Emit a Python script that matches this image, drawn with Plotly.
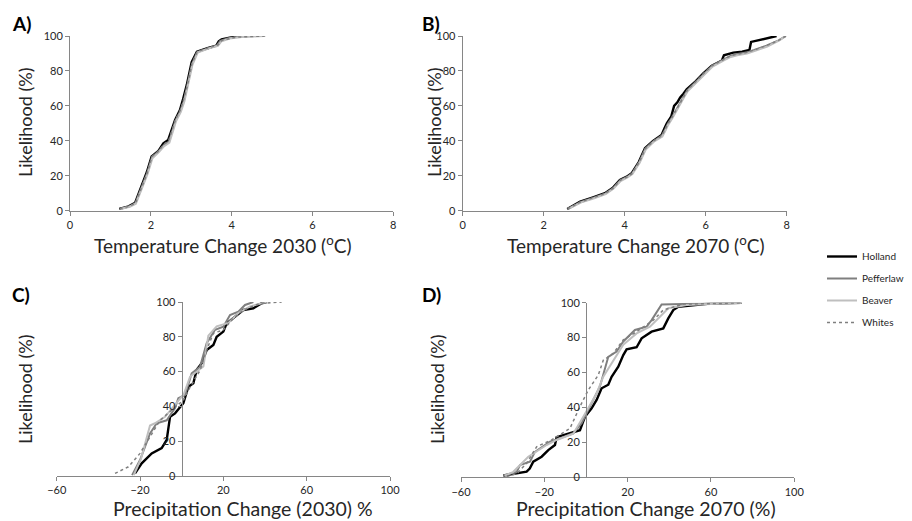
import plotly.graph_objects as go

# ---------------- data ----------------
stations = ["Holland", "Pefferlaw", "Beaver", "Whites"]

# Panel A: Temperature change 2030 (deg C) vs likelihood (%)
a_holland_x = [1.22, 1.45, 1.61, 1.77, 1.90, 2.02, 2.18, 2.31, 2.43, 2.60, 2.72, 2.80, 2.89, 3.01, 3.14, 3.40, 3.62, 3.68, 3.75, 3.95, 4.20]
a_holland_y = [1.0, 2.5, 4.5, 14.0, 22.0, 31.0, 34.0, 38.5, 40.5, 52.0, 57.6, 64.0, 72.0, 85.0, 91.0, 93.0, 94.5, 97.0, 98.0, 99.0, 100.0]
a_pefferlaw_x = [1.24, 1.47, 1.62, 1.78, 1.91, 2.03, 2.19, 2.32, 2.45, 2.61, 2.73, 2.82, 2.90, 3.02, 3.15, 3.41, 3.64, 3.72, 3.90, 4.15, 4.60]
a_pefferlaw_y = [1.0, 2.5, 4.3, 13.5, 21.5, 30.5, 34.0, 37.5, 39.5, 51.5, 57.0, 63.0, 71.0, 84.0, 90.8, 93.0, 94.6, 97.2, 98.6, 99.5, 100.0]
a_beaver_x = [1.25, 1.48, 1.63, 1.79, 1.92, 2.04, 2.20, 2.33, 2.46, 2.62, 2.74, 2.83, 2.91, 3.03, 3.16, 3.42, 3.66, 3.75, 3.95, 4.30, 4.80]
a_beaver_y = [1.0, 2.3, 4.0, 13.0, 21.0, 30.0, 33.5, 37.0, 39.0, 51.0, 56.5, 62.5, 70.5, 83.5, 90.5, 92.8, 94.4, 97.0, 98.6, 99.5, 100.0]
a_whites_x = [1.23, 1.46, 1.62, 1.78, 1.91, 2.03, 2.19, 2.32, 2.44, 2.61, 2.73, 2.81, 2.90, 3.02, 3.15, 3.42, 3.66, 3.76, 4.10, 4.45, 4.87]
a_whites_y = [1.0, 2.5, 4.2, 13.5, 21.5, 31.0, 34.0, 38.0, 40.0, 52.0, 57.6, 63.5, 71.0, 84.4, 91.0, 93.2, 94.8, 97.5, 99.3, 99.7, 100.0]

# Panel B: Temperature change 2070 (deg C) vs likelihood (%)
b_holland_x = [2.58, 2.75, 2.90, 3.20, 3.51, 3.70, 3.88, 4.05, 4.17, 4.35, 4.50, 4.70, 4.91, 4.98, 5.04, 5.15, 5.22, 5.30, 5.37, 5.45, 5.53, 5.75, 5.94, 6.15, 6.40, 6.45, 6.68, 6.90, 7.08, 7.12, 7.40, 7.75]
b_holland_y = [1.0, 3.0, 5.2, 7.5, 10.0, 13.0, 17.6, 19.5, 21.4, 28.0, 35.7, 40.0, 43.3, 47.0, 50.0, 54.0, 60.0, 62.0, 64.8, 67.0, 69.5, 74.0, 78.6, 83.0, 86.0, 89.0, 90.5, 91.0, 92.0, 96.6, 98.0, 100.0]
b_pefferlaw_x = [2.60, 2.76, 2.92, 3.22, 3.52, 3.71, 3.89, 4.06, 4.18, 4.36, 4.51, 4.71, 4.92, 5.00, 5.06, 5.17, 5.26, 5.32, 5.40, 5.47, 5.55, 5.76, 5.95, 6.16, 6.44, 6.60, 6.75, 7.00, 7.20, 7.50, 7.80, 7.98]
b_pefferlaw_y = [1.0, 3.0, 5.0, 7.3, 9.8, 12.8, 17.4, 19.3, 21.2, 27.8, 35.5, 39.8, 43.0, 46.5, 49.5, 53.5, 57.5, 60.0, 63.0, 66.0, 69.0, 74.0, 78.6, 83.0, 86.5, 88.5, 89.5, 90.5, 92.0, 94.5, 97.5, 100.0]
b_beaver_x = [2.61, 2.77, 2.93, 3.23, 3.53, 3.72, 3.90, 4.07, 4.19, 4.37, 4.52, 4.72, 4.93, 5.01, 5.07, 5.18, 5.27, 5.33, 5.41, 5.48, 5.56, 5.77, 5.96, 6.17, 6.45, 6.62, 6.78, 7.02, 7.22, 7.52, 7.82, 7.98]
b_beaver_y = [1.0, 2.8, 4.8, 7.0, 9.5, 12.5, 17.0, 19.0, 21.0, 27.5, 35.0, 39.5, 42.5, 46.0, 49.0, 53.0, 57.0, 59.5, 62.5, 65.5, 68.5, 73.5, 78.0, 82.5, 86.0, 88.0, 89.0, 90.0, 91.5, 94.0, 97.5, 100.0]
b_whites_x = [2.59, 2.76, 2.91, 3.21, 3.52, 3.71, 3.89, 4.06, 4.18, 4.36, 4.51, 4.71, 4.92, 5.00, 5.06, 5.17, 5.26, 5.32, 5.40, 5.47, 5.55, 5.76, 5.95, 6.16, 6.44, 6.60, 6.76, 7.00, 7.20, 7.50, 7.80, 7.98]
b_whites_y = [1.0, 3.0, 5.0, 7.3, 9.8, 12.8, 17.4, 19.3, 21.2, 27.8, 35.5, 39.8, 43.0, 46.5, 49.5, 53.5, 57.3, 60.0, 63.0, 66.0, 69.0, 74.0, 78.6, 83.0, 86.5, 88.5, 89.5, 90.5, 92.0, 94.5, 97.5, 100.0]

# Panel C: Precipitation change 2030 (%) vs likelihood (%)
c_holland_x = [-22.4, -19.2, -14.4, -9.6, -7.2, -5.6, -3.2, 0.8, 3.2, 5.6, 7.2, 9.6, 12.0, 15.2, 16.8, 20.0, 21.6, 25.6, 29.6, 34.4, 38.4, 40.8]
c_holland_y = [1.5, 7.3, 13.0, 16.0, 20.7, 34.0, 36.0, 41.8, 51.3, 53.3, 61.0, 64.8, 72.4, 75.3, 80.0, 83.0, 87.7, 91.5, 95.4, 96.4, 99.3, 100.0]
c_pefferlaw_x = [-23.8, -20.0, -15.2, -12.0, -7.2, -3.2, -1.6, 1.6, 4.8, 8.8, 12.0, 16.0, 20.0, 23.2, 27.2, 30.4, 34.4]
c_pefferlaw_y = [0.5, 9.2, 24.5, 30.3, 32.0, 39.0, 44.7, 46.6, 59.0, 62.8, 76.3, 84.0, 85.8, 92.5, 94.4, 98.3, 100.0]
c_beaver_x = [-23.0, -19.5, -15.2, -12.8, -8.0, -2.4, 1.0, 4.0, 10.4, 12.8, 16.8, 22.4, 27.2, 32.8, 40.8]
c_beaver_y = [0.5, 10.0, 29.0, 30.3, 34.0, 41.8, 47.0, 57.0, 63.0, 80.7, 86.0, 88.0, 93.7, 97.5, 100.0]
c_whites_x = [-32.0, -25.6, -20.0, -15.2, -10.4, -4.0, 0.8, 4.0, 8.8, 12.0, 15.2, 20.0, 24.8, 29.6, 37.6, 48.0]
c_whites_y = [1.5, 5.3, 13.0, 22.6, 32.0, 38.7, 43.5, 51.0, 60.7, 72.4, 82.0, 84.0, 90.6, 95.4, 99.2, 100.0]

# Panel D: Precipitation change 2070 (%) vs likelihood (%)
d_holland_x = [-39.7, -28.5, -27.0, -25.3, -21.3, -18.1, -14.9, -14.1, -2.9, -0.5, 2.7, 5.1, 7.5, 10.7, 12.3, 15.5, 17.9, 19.5, 24.3, 26.7, 31.5, 37.1, 39.5, 41.9, 44.3, 59.5, 74.7]
d_holland_y = [1.0, 3.2, 5.0, 9.0, 11.8, 15.6, 18.5, 23.0, 27.0, 34.7, 39.5, 44.3, 51.0, 53.0, 57.6, 63.3, 70.0, 73.3, 74.5, 79.6, 83.4, 85.3, 91.0, 95.8, 97.7, 99.5, 100.0]
d_pefferlaw_x = [-39.7, -33.3, -31.7, -26.9, -24.5, -17.3, -12.5, -6.1, -2.1, 1.9, 6.7, 10.7, 14.7, 17.9, 23.5, 29.1, 31.5, 36.3, 74.7]
d_pefferlaw_y = [1.0, 3.0, 7.0, 9.0, 14.6, 20.4, 22.3, 25.2, 31.0, 40.5, 52.0, 69.0, 72.0, 77.8, 84.4, 86.3, 90.0, 99.0, 100.0]
d_beaver_x = [-39.0, -35.0, -27.7, -18.9, -14.1, -6.1, -1.3, 5.1, 8.3, 13.1, 17.9, 24.3, 30.7, 35.5, 39.5, 48.3, 74.7]
d_beaver_y = [1.0, 3.0, 11.8, 18.5, 21.4, 25.0, 34.7, 48.0, 57.6, 67.0, 75.9, 82.4, 86.3, 92.0, 96.8, 98.7, 100.0]
d_whites_x = [-38.1, -33.3, -28.5, -23.7, -16.5, -7.7, -2.9, 1.1, 5.9, 8.3, 13.1, 17.9, 24.3, 32.3, 37.1, 46.7, 65.9, 74.7]
d_whites_y = [0.5, 2.0, 8.0, 17.5, 21.4, 28.0, 40.5, 50.0, 58.6, 67.0, 71.0, 78.7, 83.4, 90.0, 95.8, 99.2, 99.6, 100.0]

temp_ticks = [0, 2, 4, 6, 8]
precip_ticks = [-60, -20, 20, 60, 100]
like_ticks = [0, 20, 40, 60, 80, 100]

# ---------------- styling ----------------
W, H = 912, 521
FONT = "Lato"
AX = "#868686"
TXT = "#262626"
styles = {
    "Holland": dict(color="#000000", width=2.4, dash="solid"),
    "Pefferlaw": dict(color="#7f7f7f", width=2.0, dash="solid"),
    "Beaver": dict(color="#bfbfbf", width=2.0, dash="solid"),
    "Whites": dict(color="#7f7f7f", width=1.5, dash="dot"),
}

panels = [
    ("x", "y", [(a_holland_x, a_holland_y), (a_pefferlaw_x, a_pefferlaw_y), (a_beaver_x, a_beaver_y), (a_whites_x, a_whites_y)]),
    ("x2", "y2", [(b_holland_x, b_holland_y), (b_pefferlaw_x, b_pefferlaw_y), (b_beaver_x, b_beaver_y), (b_whites_x, b_whites_y)]),
    ("x3", "y3", [(c_holland_x, c_holland_y), (c_pefferlaw_x, c_pefferlaw_y), (c_beaver_x, c_beaver_y), (c_whites_x, c_whites_y)]),
    ("x4", "y4", [(d_holland_x, d_holland_y), (d_pefferlaw_x, d_pefferlaw_y), (d_beaver_x, d_beaver_y), (d_whites_x, d_whites_y)]),
]

fig = go.Figure()
for pi, (xa, ya, series) in enumerate(panels):
    for si, name in enumerate(stations):
        xs, ys = series[si]
        fig.add_trace(go.Scatter(
            x=xs, y=ys, mode="lines", name=name, xaxis=xa, yaxis=ya,
            line=dict(**styles[name]), legendgroup=name,
            showlegend=(pi == 0), hoverinfo="skip",
        ))

def px_x(p):
    return p / W

def px_y(p):
    return 1 - p / H

tick_font = dict(family=FONT, size=11, color=TXT)
common_axis = dict(showgrid=False, zeroline=False, showline=True, linecolor=AX, linewidth=1,
                   ticks="outside", tickcolor=AX, ticklen=4, tickwidth=1, tickfont=tick_font,
                   fixedrange=True)

layout = dict(
    width=W, height=H, margin=dict(l=0, r=0, t=0, b=0, autoexpand=False),
    paper_bgcolor="white", plot_bgcolor="rgba(0,0,0,0)",
    font=dict(family=FONT, color=TXT),
    showlegend=True,
    legend=dict(x=px_x(822), y=px_y(242), xanchor="left", yanchor="top",
                font=dict(family=FONT, size=10, color=TXT), tracegroupgap=3,
                bgcolor="rgba(0,0,0,0)", itemwidth=30),
    # Panel A
    xaxis=dict(domain=[px_x(70), px_x(393.3)], range=[0, 8], tickvals=temp_ticks, anchor="y", **common_axis),
    yaxis=dict(domain=[px_y(210.7), px_y(36)], range=[0, 100], tickvals=like_ticks, anchor="x", **common_axis),
    # Panel B
    xaxis2=dict(domain=[px_x(462.7), px_x(786.7)], range=[0, 8], tickvals=temp_ticks, anchor="y2", **common_axis),
    yaxis2=dict(domain=[px_y(210.7), px_y(36)], range=[0, 100], tickvals=like_ticks, anchor="x2", **common_axis),
    # Panel C
    xaxis3=dict(domain=[px_x(56.7), px_x(390)], range=[-60, 100], tickvals=precip_ticks, anchor="y3", **common_axis),
    yaxis3=dict(domain=[px_y(476), px_y(302)], range=[0, 100], tickvals=like_ticks, anchor="free",
                position=px_x(181.7), **common_axis),
    # Panel D
    xaxis4=dict(domain=[px_x(461), px_x(794.3)], range=[-60, 100], tickvals=precip_ticks, anchor="y4", **common_axis),
    yaxis4=dict(domain=[px_y(477.3), px_y(302.7)], range=[0, 100], tickvals=like_ticks, anchor="free",
                position=px_x(586), **common_axis),
)
fig.update_layout(**layout)

ann = []
def add_text(text, x, y, size, bold=False, angle=0):
    ann.append(dict(text=("<b>%s</b>" % text) if bold else text, x=px_x(x), y=px_y(y),
                    xref="paper", yref="paper", showarrow=False, xanchor="center", yanchor="middle",
                    textangle=angle, font=dict(family=FONT, size=size, color="#000000" if bold else TXT)))

add_text("A)", 21, 24, 19, bold=True)
add_text("B)", 431, 24, 19, bold=True)
add_text("C)", 21, 294, 19, bold=True)
add_text("D)", 431, 294, 19, bold=True)
add_text("Likelihood (%)", 25, 123, 18, angle=-90)
add_text("Likelihood (%)", 434, 123, 18, angle=-90)
add_text("Likelihood (%)", 25, 390, 18, angle=-90)
add_text("Likelihood (%)", 437, 390, 18, angle=-90)
add_text("Temperature Change 2030 (<sup>o</sup>C)", 222, 244, 19)
add_text("Temperature Change 2070 (<sup>o</sup>C)", 635, 244, 19)
add_text("Precipitation Change (2030) %", 243, 508, 19.5)
add_text("Precipitation Change 2070 (%)", 646, 508, 19.5)
fig.update_layout(annotations=ann)

fig.write_html("out.html", config={"displayModeBar": False},
               post_script="document.body.style.margin='0';document.body.style.overflow='hidden';")
